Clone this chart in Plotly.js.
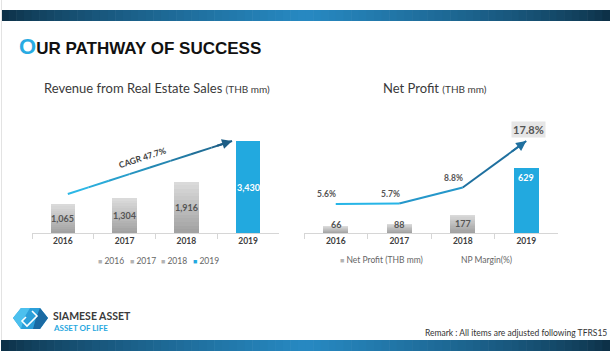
<!DOCTYPE html>
<html>
<head>
<meta charset="utf-8">
<script src="https://cdn.plot.ly/plotly-3.0.1.min.js"></script>
<style>
html,body{margin:0;padding:0;background:#fff;}
#chart{width:610px;height:360px;}
</style>
</head>
<body>
<div id="chart"></div>
<script>
// ---- data ----
const years = ['2016', '2017', '2018', '2019'];
const revenue = [1065, 1304, 1916, 3430];
const netProfit = [66, 88, 177, 629];
const npMargin = [5.6, 5.7, 8.8, 17.8];
const cagrLabel = 'CAGR 47.7%';
const leftTitle = 'Revenue from Real Estate Sales';
const rightTitle = 'Net Profit';
const unitLabel = '(THB mm)';
const profitLegend = 'Net Profit (THB mm)';
const marginLegend = 'NP Margin(%)';

// ---- helpers ----
const W = 610, H = 360;
const px = x => x / W;
const py = y => 1 - y / H;
function hex2rgb(h){h=h.replace('#','');return [0,2,4].map(i=>parseInt(h.substr(i,2),16));}
function mix(a,b,t){const A=hex2rgb(a),B=hex2rgb(b);return 'rgb('+A.map((v,i)=>Math.round(v+(B[i]-v)*t)).join(',')+')';}
const FONT = 'Lato, "Open Sans", sans-serif';
const BLUE = '#22a9df';
const GRAY_BOT = '#a0a0a0', GRAY_TOP = '#dcdcdc';

// plot geometry
const axisY = 233, topY = 110;
const plotH = axisY - topY;
const yDom = [py(axisY), py(topY)];
const revMax = plotH / 92 * 3430;
const npMax = plotH / 65 * 629;
const mMax = 23.8;

const traces = [];
const N = 14;
function gradientBars(values, xa, ya){
  for (let k = 0; k < N; k++){
    const c = mix(GRAY_BOT, GRAY_TOP, (k + 0.5) / N);
    traces.push({
      type: 'bar', x: years, y: values.map(v => v / N),
      xaxis: xa, yaxis: ya, width: 0.4,
      marker: {color: years.map((y, i) => i === years.length - 1 ? BLUE : c), line: {width: 0}},
      hoverinfo: 'skip', showlegend: false
    });
  }
}
gradientBars(revenue, 'x', 'y');
gradientBars(netProfit, 'x2', 'y2');

// margin line, segment colours
const segCols = ['#27b5e7', '#2597ca', '#1f709f'];
for (let i = 0; i < npMargin.length - 1; i++){
  traces.push({
    type: 'scatter', mode: 'lines', x: [years[i], years[i+1]], y: [npMargin[i], npMargin[i+1]],
    xaxis: 'x2', yaxis: 'y3', line: {color: segCols[i], width: 2},
    hoverinfo: 'skip', showlegend: false, cliponaxis: false
  });
}

const fmt = v => v.toLocaleString('en-US');
const annotations = [];
const last = years.length - 1;
// left bar labels (x as category index)
revenue.forEach((v, i) => annotations.push({
  xref: 'x', yref: 'y', x: i, y: v / 2, text: fmt(v), showarrow: false,
  font: {family: FONT, size: 9, color: i === last ? '#ffffff' : '#555555', weight: 'bold'}
}));
// right bar labels
const thr = 18 / plotH * npMax;
netProfit.forEach((v, i) => annotations.push({
  xref: 'x2', yref: 'y2', x: i, y: Math.max(v, thr), yshift: -9, text: fmt(v), showarrow: false,
  font: {family: FONT, size: 9, color: i === last ? '#ffffff' : '#555555', weight: 'bold'}
}));
// margin labels
npMargin.forEach((v, i) => {
  if (i < last){
    annotations.push({xref: 'x2', yref: 'y3', x: i, y: v, xshift: -9, yshift: 10, text: v.toFixed(1) + '%',
      showarrow: false, font: {family: FONT, size: 8.5, color: '#555555', weight: 'bold'}});
  } else {
    annotations.push({xref: 'x2', yref: 'y3', x: i, y: v, xshift: 2, yshift: 12, text: v.toFixed(1) + '%',
      showarrow: false, bgcolor: '#e6e6e6', borderpad: 1,
      font: {family: FONT, size: 11, color: '#555555', weight: 'bold'}});
  }
});
// arrowhead on margin line
{
  const t = 0.75;
  annotations.push({xref: 'x2', yref: 'y3', axref: 'x2', ayref: 'y3',
    x: last, y: npMargin[last], ax: last - 1 + t, ay: npMargin[last-1] + t * (npMargin[last] - npMargin[last-1]),
    showarrow: true, arrowhead: 2, arrowsize: 1, arrowwidth: 2, arrowcolor: segCols[2], text: '', standoff: 0});
}

// CAGR arrow (decoration)
const shapes = [];
const a0 = {x: 0.08, y: 1454}, a1 = {x: 2.74, y: 3430};
const S = 8;
for (let s = 0; s < S; s++){
  const t0 = s / S, t1 = (s + 1) / S;
  shapes.push({type: 'line', xref: 'x', yref: 'y',
    x0: a0.x + (a1.x - a0.x) * t0, y0: a0.y + (a1.y - a0.y) * t0,
    x1: a0.x + (a1.x - a0.x) * t1, y1: a0.y + (a1.y - a0.y) * t1,
    line: {color: mix('#2dbdec', '#1d5d85', (s + 0.5) / S), width: 2}});
}
annotations.push({xref: 'x', yref: 'y', axref: 'x', ayref: 'y', x: a1.x, y: a1.y,
  ax: a0.x + (a1.x - a0.x) * 0.9, ay: a0.y + (a1.y - a0.y) * 0.9,
  showarrow: true, arrowhead: 2, arrowsize: 1, arrowwidth: 2, arrowcolor: '#1d5d85', text: '', standoff: 0});
{
  const t = 0.47;
  annotations.push({xref: 'x', yref: 'y', x: a0.x + (a1.x - a0.x) * t, y: a0.y + (a1.y - a0.y) * t,
    yshift: 11, xshift: -3, text: cagrLabel, textangle: -18, showarrow: false,
    font: {family: FONT, size: 8.5, color: '#404040', weight: 'bold'}});
}

// top & bottom bands
const STR = 80;
function band(y0, y1){
  for (let i = 0; i < STR; i++){
    const u = (i + 0.5) / STR;
    const t = Math.pow(1 - Math.abs(2 * u - 1), 0.7);
    shapes.push({type: 'rect', xref: 'paper', yref: 'paper', layer: 'below',
      x0: px(1 + (W - 1) * i / STR), x1: px(1 + (W - 1) * (i + 1) / STR) + 0.001,
      y0: py(y1), y1: py(y0), line: {width: 0}, fillcolor: mix('#0c2d42', '#2789c2', t)});
  }
}
band(10, 21);
band(340, 351);
// left page border
shapes.push({type: 'line', xref: 'paper', yref: 'paper', x0: px(1.5), x1: px(1.5), y0: py(0), y1: py(340),
  line: {color: '#e3e3e3', width: 1}});

// logo
function pathPx(pts){return 'M' + pts.map(p => px(p[0]) + ',' + py(p[1])).join('L') + 'Z';}
shapes.push({type: 'path', xref: 'paper', yref: 'paper', path: pathPx([[13,318],[21,308],[40,308],[48,318],[40,329],[21,329]]),
  fillcolor: '#2c9fd9', line: {width: 0}});
shapes.push({type: 'path', xref: 'paper', yref: 'paper', path: pathPx([[13,318],[21,308],[30,308],[24,318],[21,329]]),
  fillcolor: '#4cc0ee', line: {width: 0}});
shapes.push({type: 'path', xref: 'paper', yref: 'paper', path: pathPx([[36,318],[40,308],[48,318],[40,329],[33,329]]),
  fillcolor: '#1a6aa3', line: {width: 0}});
shapes.push({type: 'path', xref: 'paper', yref: 'paper', path: 'M' + px(32) + ',' + py(311) + 'L' + px(37) + ',' + py(316) + 'L' + px(27) + ',' + py(326) + 'L' + px(22) + ',' + py(321) + 'L' + px(26) + ',' + py(317),
  fillcolor: 'rgba(0,0,0,0)', line: {width: 1.6, color: '#ffffff'}});

// texts
annotations.push({xref: 'paper', yref: 'paper', x: px(17), y: py(47), xanchor: 'left', yanchor: 'middle', showarrow: false,
  text: '<span style="font-size:22px;color:#29abe2">O</span>UR PATHWAY OF SUCCESS',
  font: {family: '"Liberation Sans", Arial, sans-serif', size: 17, color: '#111111', weight: 'bold'}});
annotations.push({xref: 'paper', yref: 'paper', x: px(157), y: py(88), xanchor: 'center', yanchor: 'middle', showarrow: false,
  text: leftTitle + ' <span style="font-size:10px">' + unitLabel + '</span>',
  font: {family: FONT, size: 13, color: '#3a3a3a'}});
annotations.push({xref: 'paper', yref: 'paper', x: px(435), y: py(88), xanchor: 'center', yanchor: 'middle', showarrow: false,
  text: rightTitle + ' <span style="font-size:10px">' + unitLabel + '</span>',
  font: {family: FONT, size: 13, color: '#3a3a3a'}});
// legends
const sq = c => '<span style="font-size:7px;color:' + c + '">■</span> ';
years.forEach((y, i) => annotations.push({xref: 'paper', yref: 'paper', x: px(96 + i * 31.5), y: py(261),
  xanchor: 'left', yanchor: 'middle', showarrow: false,
  text: sq(i === last ? BLUE : '#b3b3b3') + y, font: {family: FONT, size: 8.5, color: '#666666'}}));
annotations.push({xref: 'paper', yref: 'paper', x: px(338), y: py(260), xanchor: 'left', yanchor: 'middle', showarrow: false,
  text: sq('#b3b3b3') + profitLegend, font: {family: FONT, size: 8.5, color: '#666666'}});
annotations.push({xref: 'paper', yref: 'paper', x: px(459), y: py(260), xanchor: 'left', yanchor: 'middle', showarrow: false,
  text: marginLegend, font: {family: FONT, size: 8.5, color: '#666666'}});
// logo text & remark
annotations.push({xref: 'paper', yref: 'paper', x: px(52), y: py(315.5), xanchor: 'left', yanchor: 'middle', showarrow: false,
  borderpad: 0, text: 'SIAMESE ASSET', font: {family: FONT, size: 10.5, color: '#3a3a3a', weight: 'bold'}});
annotations.push({xref: 'paper', yref: 'paper', x: px(52), y: py(328), xanchor: 'left', yanchor: 'middle', showarrow: false,
  borderpad: 0, text: 'ASSET OF LIFE', font: {family: FONT, size: 8, color: '#29a8e0', weight: 'bold'}});
annotations.push({xref: 'paper', yref: 'paper', x: px(609), y: py(333), xanchor: 'right', yanchor: 'middle', showarrow: false,
  text: 'Remark : All items are adjusted following TFRS15', font: {family: FONT, size: 8.5, color: '#333333'}});

const xCommon = {type: 'category', range: [-0.5, 3.5], showline: true, linecolor: '#d6d6d6', linewidth: 1,
  ticks: 'outside', tickson: 'boundaries', ticklen: 5, tickcolor: '#d6d6d6', showgrid: false, zeroline: false,
  tickfont: {family: FONT, size: 8.5, color: '#404040', weight: 'bold'}, fixedrange: true};

const layout = {
  width: W, height: H, margin: {l: 0, r: 0, t: 0, b: 0}, autosize: false,
  paper_bgcolor: '#ffffff', plot_bgcolor: 'rgba(0,0,0,0)',
  barmode: 'stack', showlegend: false,
  xaxis: Object.assign({}, xCommon, {domain: [px(32), px(279)], anchor: 'y'}),
  yaxis: {domain: yDom, range: [0, revMax], visible: false, fixedrange: true, anchor: 'x'},
  xaxis2: Object.assign({}, xCommon, {domain: [px(304), px(558)], anchor: 'y2'}),
  yaxis2: {domain: yDom, range: [0, npMax], visible: false, fixedrange: true, anchor: 'x2'},
  yaxis3: {overlaying: 'y2', range: [0, mMax], visible: false, fixedrange: true, anchor: 'x2'},
  shapes: shapes, annotations: annotations
};

Plotly.newPlot('chart', traces, layout, {displayModeBar: false, staticPlot: true});
</script>
</body>
</html>
